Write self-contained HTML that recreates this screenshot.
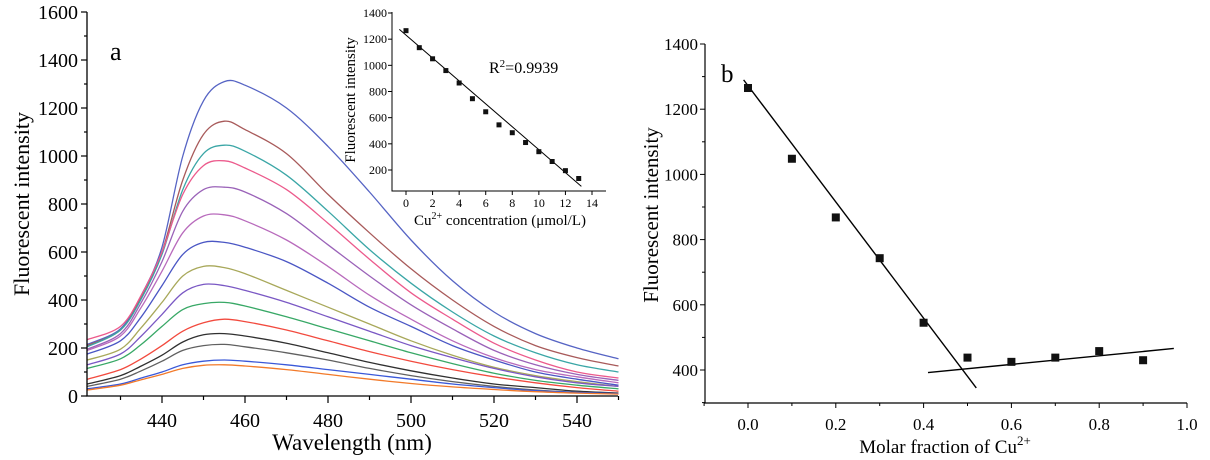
<!DOCTYPE html>
<html><head><meta charset="utf-8">
<style>
html,body{margin:0;padding:0;background:#fff;}
svg{display:block;font-family:"Liberation Serif",serif;}
</style></head>
<body>
<svg id="fig" width="1210" height="460" viewBox="0 0 1210 460">
<g id="panelA"></g>
<g id="inset"></g>
<g id="panelB"></g>
</svg>
<script>
// ---- Panel A data ----
const wavelengths = [422,430,435,440,445,450,455,460,470,480,490,500,510,520,530,540,550];
const spectra = [
 [215,280,420,620,1000,1230,1310,1295,1200,1040,850,650,480,350,260,200,155],
 [210,275,410,600,900,1090,1145,1110,1010,840,680,530,400,290,210,160,125],
 [205,275,405,590,860,1010,1045,1020,920,770,610,470,350,250,180,130,100],
 [235,290,420,600,840,960,980,950,860,720,570,430,320,220,150,100,75],
 [195,260,390,560,770,860,870,850,760,630,500,380,280,190,130,90,65],
 [190,250,370,520,680,750,755,730,650,540,420,320,230,160,110,80,55],
 [175,230,330,460,590,640,640,620,560,470,370,290,210,150,100,70,45],
 [150,195,285,390,500,540,535,510,440,370,300,230,170,120,85,60,40],
 [130,175,250,340,430,465,460,440,390,330,270,210,160,115,80,55,40],
 [115,155,215,290,360,385,390,375,330,280,230,180,135,95,65,45,30],
 [70,110,155,210,270,305,320,310,275,230,185,145,110,80,55,35,20],
 [50,85,125,170,225,255,260,250,220,180,140,105,75,50,35,20,12],
 [40,70,105,145,190,210,215,205,180,150,115,85,60,40,25,15,10],
 [30,50,75,100,130,145,150,145,130,110,90,70,50,35,22,15,10],
 [25,45,68,90,115,128,130,125,110,90,70,52,38,27,18,12,8]
];
const spectraColors = ['#5664c4','#a85a5a','#3aa6a6','#ec5a8c','#9a62b8','#b86abc','#4a56c4','#a8a85a','#7a58c4','#38a866','#f24a3e','#303030','#606060','#3a58d8','#f27a2a'];
const aYTicks = [0,200,400,600,800,1000,1200,1400,1600];
const aXTicks = [440,460,480,500,520,540];
// ---- Inset data ----
const insetConc = [0,1,2,3,4,5,6,7,8,9,10,11,12,13];
const insetIntensity = [1265,1135,1050,960,865,745,645,545,485,410,340,265,195,135];
const insetFitX = [-0.5,13.2];
const insetFitY = [1275,75];
const insetYTicks = [200,400,600,800,1000,1200,1400];
const insetXTicks = [0,2,4,6,8,10,12,14];
// ---- Panel B data ----
const molarFraction = [0,0.1,0.2,0.3,0.4,0.5,0.6,0.7,0.8,0.9];
const bIntensity = [1265,1048,868,743,545,438,425,438,458,430];
const fit1X = [-0.01,0.52], fit1Y = [1290,345];
const fit2X = [0.41,0.97], fit2Y = [392,466];
const bYTicks = [400,600,800,1000,1200,1400];
const bXTicks = [0,0.2,0.4,0.6,0.8,1.0];

const NS='http://www.w3.org/2000/svg';
function mk(parent,tag,attrs,text){const e=document.createElementNS(NS,tag);for(const k in attrs)e.setAttribute(k,attrs[k]);if(text!==undefined)e.textContent=text;parent.appendChild(e);return e;}
function lin(d0,d1,r0,r1){return v=>r0+(v-d0)*(r1-r0)/(d1-d0);}
function smooth(pts){let d='M'+pts[0][0].toFixed(1)+','+pts[0][1].toFixed(1);for(let i=0;i<pts.length-1;i++){const p0=pts[i-1]||pts[i],p1=pts[i],p2=pts[i+1],p3=pts[i+2]||p2;const c1=[p1[0]+(p2[0]-p0[0])/6,p1[1]+(p2[1]-p0[1])/6],c2=[p2[0]-(p3[0]-p1[0])/6,p2[1]-(p3[1]-p1[1])/6];d+='C'+c1[0].toFixed(1)+','+c1[1].toFixed(1)+' '+c2[0].toFixed(1)+','+c2[1].toFixed(1)+' '+p2[0].toFixed(1)+','+p2[1].toFixed(1);}return d;}

// ===== Panel A =====
(function(){
 const g=document.getElementById('panelA');
 const x=lin(440,540,162,577), y=lin(0,1600,396,12);
 const L=87,R=618,B=396,T=12;
 spectra.forEach((s,i)=>{
  const p=mk(g,'path',{d:smooth(wavelengths.map((w,j)=>[x(w),y(s[j])])),fill:'none',stroke:spectraColors[i],'stroke-width':1.3});
  
  
 });
 const ax=mk(g,'path',{d:`M${L},${T}V${B}H${R}`,fill:'none',stroke:'#000','stroke-width':1.3});
 
 
 for(let v=0;v<=1600;v+=100){mk(g,'line',{x1:L-(v%200?3:6),x2:L,y1:y(v),y2:y(v),stroke:'#000','stroke-width':1.2});}
 aYTicks.forEach(v=>{const t=mk(g,'text',{x:L-9,y:y(v)+7,'text-anchor':'end','font-size':20},v);});
 for(let w=430;w<=550;w+=10){mk(g,'line',{x1:x(w),x2:x(w),y1:B,y2:B+(w%20?4:7),stroke:'#000','stroke-width':1.2});}
 aXTicks.forEach(v=>{const t=mk(g,'text',{x:x(v),y:B+31,'text-anchor':'middle','font-size':20},v);});
 const xt=mk(g,'text',{x:352,y:450,'text-anchor':'middle','font-size':23},'Wavelength (nm)');
 
 const yt=mk(g,'text',{x:0,y:0,transform:'translate(29,204) rotate(-90)','text-anchor':'middle','font-size':22},'Fluorescent intensity');
 
 const lb=mk(g,'text',{x:110,y:60,'font-size':26},'a');
 
})();

// ===== Inset =====
(function(){
 const g=document.getElementById('inset');
 const x=lin(0,14,406,592), y=lin(200,1400,170,13);
 const L=392,R=606,B=191,T=12;
 mk(g,'rect',{x:L,y:T,width:R-L,height:B-T,fill:'#fff'});
 const fl=mk(g,'line',{x1:x(insetFitX[0]),y1:y(insetFitY[0]),x2:x(insetFitX[1]),y2:y(insetFitY[1]),stroke:'#000','stroke-width':1});
 
 insetConc.forEach((c,i)=>{const r=mk(g,'rect',{x:x(c)-2.5,y:y(insetIntensity[i])-2.5,width:5,height:5,fill:'#111'});});
 const ax=mk(g,'path',{d:`M${L},${T}V${B}H${R}`,fill:'none',stroke:'#000','stroke-width':1});
 
 insetYTicks.forEach(v=>{mk(g,'line',{x1:L-4,x2:L,y1:y(v),y2:y(v),stroke:'#000'});const t=mk(g,'text',{x:L-5,y:y(v)+4,'text-anchor':'end','font-size':12},v);});
 insetXTicks.forEach(v=>{mk(g,'line',{x1:x(v),x2:x(v),y1:B,y2:B+4,stroke:'#000'});const t=mk(g,'text',{x:x(v),y:B+16,'text-anchor':'middle','font-size':12},v);});
 const xt=mk(g,'text',{x:500,y:225,'text-anchor':'middle','font-size':15});
 xt.innerHTML='Cu<tspan dy="-6" font-size="10">2+</tspan><tspan dy="6"> concentration (μmol/L)</tspan>';
 
 const yt=mk(g,'text',{x:0,y:0,transform:'translate(355,100) rotate(-90)','text-anchor':'middle','font-size':15},'Fluorescent intensity');
 
 const r2=mk(g,'text',{x:489,y:73,'font-size':16});
 r2.innerHTML='R<tspan dy="-6" font-size="11">2</tspan><tspan dy="6">=0.9939</tspan>';
 
})();

// ===== Panel B =====
(function(){
 const g=document.getElementById('panelB');
 const x=lin(0,1,748,1187), y=lin(400,1400,370,44);
 const L=705,R=1187,B=403,T=44;
 const l1=mk(g,'line',{x1:x(fit1X[0]),y1:y(fit1Y[0]),x2:x(fit1X[1]),y2:y(fit1Y[1]),stroke:'#000','stroke-width':1.4});
 
 const l2=mk(g,'line',{x1:x(fit2X[0]),y1:y(fit2Y[0]),x2:x(fit2X[1]),y2:y(fit2Y[1]),stroke:'#000','stroke-width':1.4});
 
 molarFraction.forEach((m,i)=>{const r=mk(g,'rect',{x:x(m)-4,y:y(bIntensity[i])-4,width:8,height:8,fill:'#111'});});
 const ax=mk(g,'path',{d:`M${L},${T}V${B}H${R}`,fill:'none',stroke:'#000','stroke-width':1.2});
 
 for(let v=300;v<=1400;v+=100){mk(g,'line',{x1:L-(v%200?3:5),x2:L,y1:y(v),y2:y(v),stroke:'#000'});}
 bYTicks.forEach(v=>{const t=mk(g,'text',{x:L-7,y:y(v)+6,'text-anchor':'end','font-size':17},v);});
 for(let v=-0.1;v<=1.001;v+=0.1){mk(g,'line',{x1:x(v),x2:x(v),y1:B,y2:B+(Math.round(v*10)%2?3:5),stroke:'#000'});}
 bXTicks.forEach(v=>{const t=mk(g,'text',{x:x(v),y:B+27,'text-anchor':'middle','font-size':17},v.toFixed(1));});
 const xt=mk(g,'text',{x:945,y:453,'text-anchor':'middle','font-size':19});
 xt.innerHTML='Molar fraction of Cu<tspan dy="-8" font-size="13">2+</tspan>';
 
 const yt=mk(g,'text',{x:0,y:0,transform:'translate(658,215) rotate(-90)','text-anchor':'middle','font-size':21},'Fluorescent intensity');
 
 const lb=mk(g,'text',{x:721,y:82,'font-size':25},'b');
 
})();
</script>
</body></html>
